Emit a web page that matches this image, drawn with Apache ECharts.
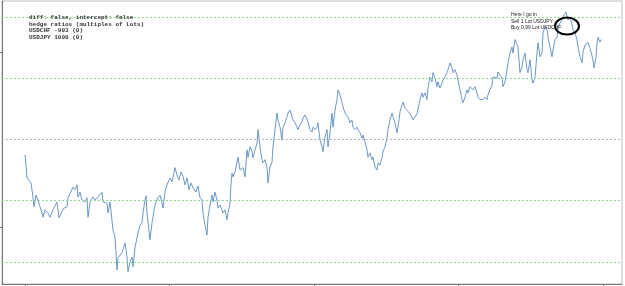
<!DOCTYPE html>
<html><head><meta charset="utf-8">
<script src="https://cdn.jsdelivr.net/npm/echarts@6/dist/echarts.min.js"></script>
<style>html,body{margin:0;padding:0;background:#fff}#c{width:625px;height:286px}</style>
</head><body><div id="c"></div>
<script>
// time index (hours from start) and spread value
var times = [0,1,2,4,6,8,9,11,13,15,17,18,20,23,25,28,32,34,37,39,42,43,45,48,50,52,53,55,57,60,62,63,65,68,70,73,77,78,82,83,85,88,90,92,93,95,97,100,102,103,105,107,108,110,113,115,117,118,120,121,122,125,127,130,133,135,137,138,140,142,145,147,150,152,154,156,158,160,162,164,166,168,171,173,175,177,178,180,182,183,185,187,188,190,192,193,195,198,200,202,203,205,206,207,208,210,212,213,215,218,220,222,223,225,227,228,230,232,233,235,237,238,240,242,243,245,247,248,250,252,253,255,257,258,260,262,263,265,267,268,270,272,273,275,277,278,280,282,283,285,287,288,290,292,293,295,297,298,300,302,303,305,307,308,310,312,313,315,317,318,320,322,323,325,327,328,330,332,333,335,337,338,340,342,343,345,347,348,350,352,353,355,357,358,360,362,363,365,367,368,370,372,373,375,377,378,380,382,385,388,390,392,395,397,398,400,402,403,405,407,408,410,412,413,415,417,418,420,422,423,425,427,428,430,432,433,435,437,438,440,442,443,445,447,448,450,452,453,455,457,458,460,462,463,465,467,468,470,472,473,475,477,478,480,482,483,485,487,488,490,492,493,495,497,498,500,502,503,505,507,508,510,512,513,515,517,518,520,522,523,525,527,528,530,532,533,535,537,539,541,542,543,545,547,548,550,552,553,555,557,558,560,563,565,567,568,569,571,572,573,575,576];
var spread = [175,158,137,137,129,106,90,109,101,90,80,73,85,80,73,85,98,72,82,88,90,105,105,122,118,126,106,114,101,98,105,73,98,106,101,106,114,98,96,80,98,52,41,-13,7,11,15,31,8,-16,0,8,-8,24,47,60,64,80,101,108,80,36,64,93,105,109,96,88,114,126,137,131,154,142,134,147,140,126,137,118,129,121,114,124,105,101,80,60,44,73,93,109,98,114,101,88,93,80,85,69,80,96,126,145,139,147,150,171,150,154,139,183,171,188,180,170,183,194,216,188,167,162,167,155,129,155,163,188,216,243,232,220,199,220,227,237,243,248,237,232,227,220,216,224,229,235,240,237,229,216,212,220,216,220,227,199,188,180,204,216,188,211,243,220,248,265,281,273,260,253,243,245,237,227,232,220,216,220,216,211,202,207,196,183,171,178,167,171,155,150,162,158,171,180,188,202,216,232,243,237,227,211,220,245,256,261,251,253,242,232,229,242,265,276,269,276,265,284,302,294,309,300,286,294,284,292,297,300,309,314,325,317,309,314,305,297,281,265,260,269,281,276,286,284,281,286,276,269,265,268,265,269,265,273,281,289,302,305,300,310,309,300,286,294,314,325,341,351,341,363,366,351,309,318,330,341,314,309,330,297,292,302,341,358,335,341,374,384,379,367,351,335,346,363,367,384,390,395,403,408,405,395,400,387,379,374,363,351,335,325,343,354,358,349,351,330,317,333,358,367,359,363];
var gridLevels = [0,100,300,400];
var midLevel = [200];
var xTickValues = [0,144.5,289,433.5,578];
var yTickValues = [57,343];
var infoLines = ['diff: false, intercept: false','hedge ratios (multiples of Lots)','USDCHF -993 (0)','USDJPY 1000 (0)'];
var noteLines = ['Here I go in','Sell 1 Lot USDJPY','Buy 0,99 Lot USDCHF'];
var notePoint = [486, 409];
var circlePoint = [542, 385];

var data = times.map(function(t,i){return [t, spread[i]];});
var ml = gridLevels.map(function(v){return {yAxis:v, lineStyle:{color:'#8fd88f', type:[2,2], width:1}};})
  .concat(midLevel.map(function(v){return {yAxis:v, lineStyle:{color:'#b4b4b4', type:[2,2], width:1}};}));

var chart = echarts.init(document.getElementById('c'), null, {renderer:'canvas'});
chart.setOption({
  animation:false,
  backgroundColor:'#fff',
  title:{text:infoLines.join('\n'), left:24, top:9,
    textStyle:{fontFamily:'Liberation Mono', fontSize:6, fontWeight:'bold', color:'#333', lineHeight:6.7}},
  grid:{left:2, right:3, top:1, bottom:2, show:true, borderColor:'#bdbdbd', borderWidth:1},
  xAxis:{type:'value', min:-23, max:597, splitLine:{show:false},
    axisLine:{show:true, onZero:false, lineStyle:{color:'#777'}},
    axisTick:{show:true, length:3, customValues:xTickValues, lineStyle:{color:'#777'}},
    axisLabel:{show:false, customValues:xTickValues}},
  yAxis:{type:'value', min:-36, max:426, splitLine:{show:false},
    axisLine:{show:true, onZero:false, lineStyle:{color:'#777'}},
    axisTick:{show:true, length:3, customValues:yTickValues, lineStyle:{color:'#777'}},
    axisLabel:{show:false, customValues:yTickValues}},
  series:[{type:'line', data:data, showSymbol:false, symbol:'none',
    lineStyle:{color:'#5b8dbf', width:0.9},
    markLine:{silent:true, symbol:'none', label:{show:false}, data:ml}}]
});
var np = chart.convertToPixel({xAxisIndex:0,yAxisIndex:0}, notePoint);
var cp = chart.convertToPixel({xAxisIndex:0,yAxisIndex:0}, circlePoint);
chart.setOption({graphic:[
  {type:'text', left:np[0], top:np[1], z:10, style:{text:noteLines.join('\n'), fontFamily:'Liberation Sans', fontSize:5, lineHeight:6.5, fill:'#222'}},
  {type:'ellipse', shape:{cx:cp[0], cy:cp[1], rx:12, ry:8.5}, z:11, style:{fill:'none', stroke:'#000', lineWidth:2}}
]});
</script></body></html>
